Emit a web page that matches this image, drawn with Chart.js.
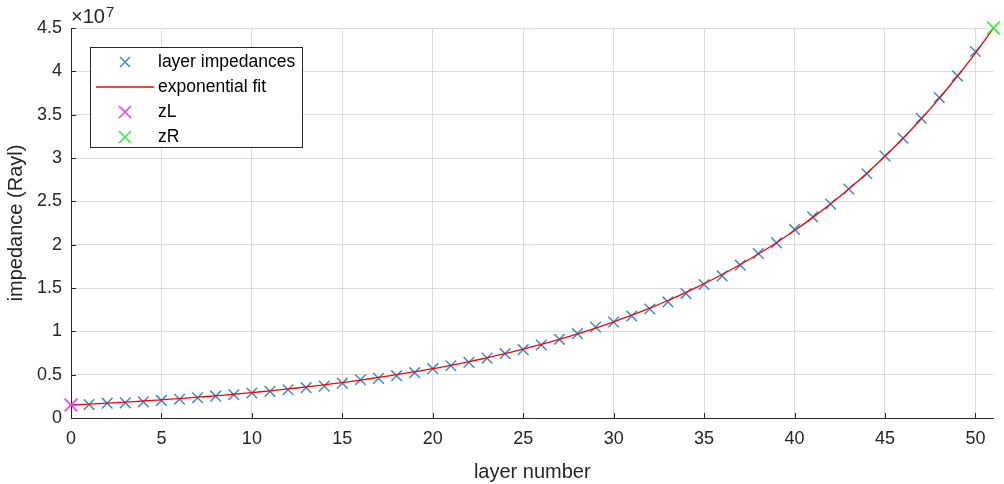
<!DOCTYPE html>
<html lang="en">
<head>
<meta charset="UTF-8">
<title>layer impedances</title>
<script src="https://cdn.jsdelivr.net/npm/chart.js"></script>
<style>
  html, body { margin: 0; padding: 0; background: #fff; }
  #wrap { width: 1004px; height: 484px; }
</style>
</head>
<body>
<div id="wrap"><canvas id="myChart"></canvas></div>
<script>
  // layer numbers and impedances (Rayl)
  const layers = [1, 2, 3, 4, 5, 6, 7, 8, 9, 10, 11, 12, 13, 14, 15, 16, 17, 18, 19, 20,
    21, 22, 23, 24, 25, 26, 27, 28, 29, 30, 31, 32, 33, 34, 35, 36, 37, 38, 39, 40,
    41, 42, 43, 44, 45, 46, 47, 48, 49, 50];
  const impedances = [1.55e6, 1.71e6, 1.75e6, 1.87e6, 2.03e6, 2.16e6, 2.34e6, 2.52e6, 2.68e6, 2.88e6,
    3.07e6, 3.26e6, 3.50e6, 3.68e6, 4.02e6, 4.41e6, 4.57e6, 4.88e6, 5.23e6, 5.69e6,
    6.03e6, 6.42e6, 6.91e6, 7.42e6, 7.88e6, 8.42e6, 9.08e6, 9.73e6, 10.5e6, 11.08e6,
    11.77e6, 12.58e6, 13.39e6, 14.36e6, 15.40e6, 16.39e6, 17.63e6, 18.98e6, 20.21e6, 21.76e6,
    23.21e6, 24.68e6, 26.42e6, 28.18e6, 30.23e6, 32.28e6, 34.59e6, 36.97e6, 39.48e6, 42.29e6];

  // exponential fit curve, read at each layer 0..51
  const fitLayers = [0, 1, 2, 3, 4, 5, 6, 7, 8, 9, 10, 11, 12, 13, 14, 15, 16, 17, 18, 19, 20,
    21, 22, 23, 24, 25, 26, 27, 28, 29, 30, 31, 32, 33, 34, 35, 36, 37, 38, 39, 40,
    41, 42, 43, 44, 45, 46, 47, 48, 49, 50, 51];
  const fitValues = [1.50e6, 1.60e6, 1.71e6, 1.83e6, 1.96e6, 2.10e6, 2.24e6, 2.40e6, 2.56e6, 2.74e6, 2.93e6,
    3.13e6, 3.35e6, 3.58e6, 3.83e6, 4.09e6, 4.38e6, 4.68e6, 5.00e6, 5.35e6, 5.69e6,
    6.08e6, 6.50e6, 6.95e6, 7.43e6, 7.95e6, 8.50e6, 9.08e6, 9.71e6, 10.38e6, 11.10e6,
    11.86e6, 12.68e6, 13.56e6, 14.49e6, 15.50e6, 16.56e6, 17.71e6, 18.93e6, 20.23e6, 21.63e6,
    23.12e6, 24.71e6, 26.42e6, 28.24e6, 30.20e6, 32.27e6, 34.50e6, 36.88e6, 39.43e6, 42.10e6, 45.0e6];

  const zL = [0, 1.5e6];
  const zR = [51, 4.5e7];

  const xTicks = [0, 5, 10, 15, 20, 25, 30, 35, 40, 45, 50];
  const yTicks = [0, 0.5e7, 1e7, 1.5e7, 2e7, 2.5e7, 3e7, 3.5e7, 4e7, 4.5e7];

  const FONT = '"Liberation Sans", Arial, Helvetica, sans-serif';
  const DARK = '#262626';
  const BLUE = '#3a8ed0', RED = '#ff0000', MAGENTA = '#ff33ff', GREEN = '#33ee33';

  const legendRows = [
    { label: 'layer impedances', color: BLUE, line: false, r: 5 },
    { label: 'exponential fit', color: RED, line: true },
    { label: 'zL', color: MAGENTA, line: false, r: 6 },
    { label: 'zR', color: GREEN, line: false, r: 6 }
  ];

  const pts = (xs, ys) => xs.map((x, i) => ({ x: x, y: ys[i] }));

  // MATLAB-like extras: inward ticks, x10^7 exponent, boxed legend
  const matlabLook = {
    id: 'matlabLook',
    afterDraw(chart) {
      const c = chart.ctx;
      const xs = chart.scales.x, ys = chart.scales.y;
      const a = chart.chartArea;
      c.save();
      c.strokeStyle = DARK;
      c.lineWidth = 1;
      c.beginPath();
      xTicks.forEach(t => {
        const px = Math.round(xs.getPixelForValue(t)) + 0.5;
        c.moveTo(px, a.bottom); c.lineTo(px, a.bottom - 5);
      });
      yTicks.forEach(t => {
        const py = Math.round(ys.getPixelForValue(t)) + 0.5;
        c.moveTo(a.left, py); c.lineTo(a.left + 5, py);
      });
      c.stroke();

      // exponent label
      c.fillStyle = DARK;
      c.textBaseline = 'alphabetic';
      c.textAlign = 'left';
      c.font = '20px ' + FONT;
      c.fillText('\u00d710', a.left, a.top - 5);
      const w = c.measureText('\u00d710').width;
      c.font = '15px ' + FONT;
      c.fillText('7', a.left + w + 1, a.top - 11);

      // legend box
      const lx = 90, ly = 47, lw = 212, lh = 100;
      c.fillStyle = '#fff';
      c.fillRect(lx, ly, lw, lh);
      c.strokeStyle = DARK;
      c.lineWidth = 1;
      c.strokeRect(lx + 0.5, ly + 0.5, lw, lh);
      legendRows.forEach((row, i) => {
        const cy = ly + 15 + i * 25;
        c.strokeStyle = row.color;
        if (row.line) {
          c.lineWidth = 1.6;
          c.beginPath();
          c.moveTo(lx + 6, cy); c.lineTo(lx + 64, cy);
          c.stroke();
        } else {
          c.lineWidth = 1.5;
          const r = row.r;
          c.beginPath();
          c.moveTo(lx + 35 - r, cy - r); c.lineTo(lx + 35 + r, cy + r);
          c.moveTo(lx + 35 - r, cy + r); c.lineTo(lx + 35 + r, cy - r);
          c.stroke();
        }
        c.fillStyle = '#000';
        c.font = '17.5px ' + FONT;
        c.textBaseline = 'middle';
        c.fillText(row.label, lx + 68, cy);
      });
      c.restore();
    }
  };

  new Chart(document.getElementById('myChart'), {
    type: 'scatter',
    data: {
      datasets: [{
        label: 'layer impedances',
        data: pts(layers, impedances),
        showLine: false,
        pointStyle: 'crossRot',
        pointRadius: 7.5,
        pointBorderWidth: 1.5,
        pointBorderColor: BLUE,
        pointBackgroundColor: BLUE,
        order: 2
      }, {
        label: 'exponential fit',
        data: pts(fitLayers, fitValues),
        showLine: true,
        borderColor: RED,
        borderWidth: 1.3,
        pointRadius: 0,
        tension: 0.3,
        order: 1
      }, {
        label: 'zL',
        data: [{ x: zL[0], y: zL[1] }],
        showLine: false,
        pointStyle: 'crossRot',
        pointRadius: 9,
        pointBorderWidth: 1.5,
        pointBorderColor: MAGENTA,
        order: 0
      }, {
        label: 'zR',
        data: [{ x: zR[0], y: zR[1] }],
        showLine: false,
        pointStyle: 'crossRot',
        pointRadius: 9,
        pointBorderWidth: 1.5,
        pointBorderColor: GREEN,
        order: 0
      }]
    },
    options: {
      responsive: true,
      maintainAspectRatio: false,
      animation: false,
      clip: false,
      layout: { padding: { top: 28, right: 9, left: 0, bottom: 0 } },
      plugins: {
        legend: { display: false },
        tooltip: { enabled: false }
      },
      scales: {
        x: {
          type: 'linear',
          min: 0,
          max: 51,
          afterBuildTicks: s => { s.ticks = xTicks.map(v => ({ value: v })); },
          afterFit: s => { s.height = 66; },
          ticks: { color: DARK, font: { family: FONT, size: 18 }, padding: 10, maxRotation: 0 },
          grid: { color: '#dcdcdc', drawTicks: false },
          border: { color: DARK, width: 1 },
          title: { display: true, text: 'layer number', color: DARK, font: { family: FONT, size: 20 }, padding: { top: 4, bottom: 0 } }
        },
        y: {
          type: 'linear',
          min: 0,
          max: 4.5e7,
          afterBuildTicks: s => { s.ticks = yTicks.map(v => ({ value: v })); },
          afterFit: s => { s.width = 71; },
          ticks: { color: DARK, font: { family: FONT, size: 18 }, padding: 9, callback: v => String(v / 1e7) },
          grid: { color: '#dcdcdc', drawTicks: false },
          border: { color: DARK, width: 1 },
          title: { display: true, text: 'impedance (Rayl)', color: DARK, font: { family: FONT, size: 20 }, padding: { top: 4, bottom: 0 } }
        }
      }
    },
    plugins: [matlabLook]
  });
</script>
</body>
</html>
